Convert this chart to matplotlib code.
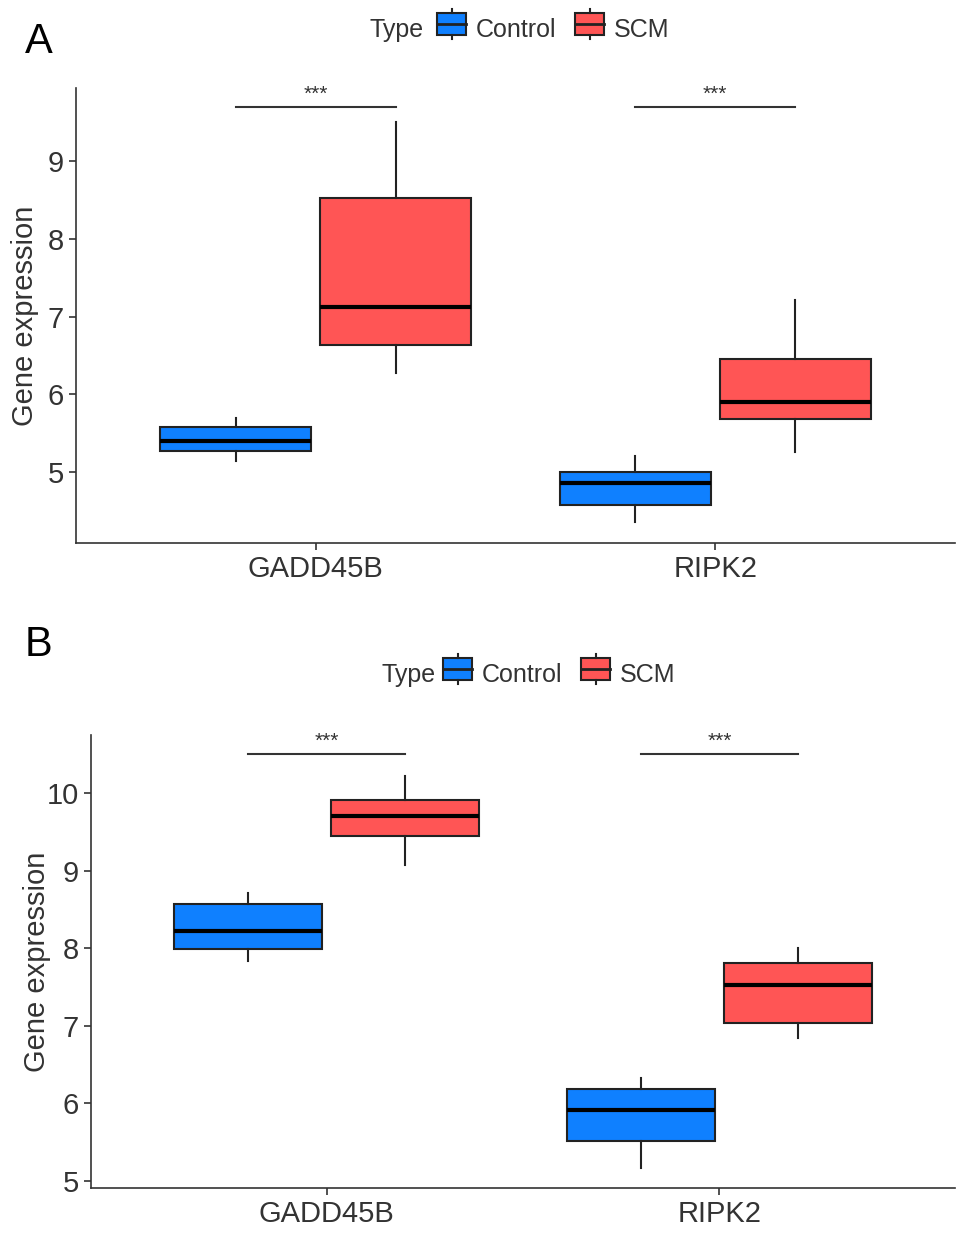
import matplotlib.pyplot as plt
from matplotlib.legend_handler import HandlerBase
from matplotlib.patches import Rectangle, Patch
from matplotlib.lines import Line2D

plt.rcParams['font.family'] = ['Liberation Sans', 'DejaVu Sans']

genes = ['GADD45B', 'RIPK2']
groups = ['Control', 'SCM']
colors = {'Control': '#0F80FF', 'SCM': '#FF5555'}

# five-number summaries per gene: [whislo, q1, med, q3, whishi]
a_control = [[5.15, 5.27, 5.40, 5.58, 5.70], [4.36, 4.58, 4.86, 5.00, 5.21]]
a_scm = [[6.27, 6.63, 7.12, 8.52, 9.50], [5.26, 5.68, 5.90, 6.46, 7.21]]
a_sig_y = 9.69
a_ylim = (4.09, 9.94)
a_ticks = [5, 6, 7, 8, 9]

b_control = [[7.83, 7.99, 8.22, 8.57, 8.71], [5.17, 5.51, 5.91, 6.19, 6.33]]
b_scm = [[9.08, 9.45, 9.71, 9.91, 10.22], [6.85, 7.04, 7.53, 7.81, 8.00]]
b_sig_y = 10.5
b_ylim = (4.91, 10.75)
b_ticks = [5, 6, 7, 8, 9, 10]

sig_labels = ['***', '***']

TXT = '#333333'


class BoxHandler(HandlerBase):
    def create_artists(self, legend, orig_handle, x0, y0, width, height, fontsize, trans):
        fc = orig_handle.get_facecolor()
        r = Rectangle((x0, y0), width, height, facecolor=fc, edgecolor='#222222', lw=1.5,
                      transform=trans)
        mid = y0 + height / 2
        m = Line2D([x0, x0 + width], [mid, mid], color='#222222', lw=2, transform=trans)
        w1 = Line2D([x0 + width / 2] * 2, [y0 + height, y0 + height * 1.2], color='#222222',
                    lw=1.5, transform=trans)
        w2 = Line2D([x0 + width / 2] * 2, [y0, y0 - height * 0.2], color='#222222',
                    lw=1.5, transform=trans)
        return [r, m, w1, w2]


def draw_panel(ax, control, scm, sig_y, ylim, ticks):
    width = 0.378
    for i, gene in enumerate(genes):
        for grp, vals, off in (('Control', control[i], -0.2), ('SCM', scm[i], 0.2)):
            st = {'whislo': vals[0], 'q1': vals[1], 'med': vals[2], 'q3': vals[3],
                  'whishi': vals[4], 'fliers': []}
            ax.bxp([st], positions=[i + 1 + off], widths=width, patch_artist=True,
                   showcaps=False,
                   boxprops=dict(facecolor=colors[grp], edgecolor='#222222', lw=1.5),
                   medianprops=dict(color='black', lw=3),
                   whiskerprops=dict(color='#222222', lw=1.5))
        ax.plot([i + 1 - 0.2, i + 1 + 0.2], [sig_y, sig_y], color='#333333', lw=1.5)
        ax.text(i + 1, sig_y + (ylim[1] - ylim[0]) * 0.008, sig_labels[i], ha='center',
                va='bottom', fontsize=15, color=TXT)
    ax.set_xlim(0.4, 2.6)
    ax.set_ylim(*ylim)
    ax.set_xticks([1, 2])
    ax.set_xticklabels(genes)
    ax.set_yticks(ticks)
    ax.tick_params(labelsize=21, colors=TXT, length=5, width=1.2)
    ax.set_ylabel('Gene expression', fontsize=21, color=TXT)
    for s in ['top', 'right']:
        ax.spines[s].set_visible(False)
    for s in ['left', 'bottom']:
        ax.spines[s].set_color('#333333')
        ax.spines[s].set_linewidth(1.2)


fig = plt.figure(figsize=(9.69, 12.44), dpi=100)
ax_a = fig.add_axes([0.0784, 0.5635, 0.9072, 0.3658])
ax_b = fig.add_axes([0.0939, 0.045, 0.8917, 0.3642])
draw_panel(ax_a, a_control, a_scm, a_sig_y, a_ylim, a_ticks)
draw_panel(ax_b, b_control, b_scm, b_sig_y, b_ylim, b_ticks)
ax_a.yaxis.set_label_coords(-0.042, 0.5)
ax_b.yaxis.set_label_coords(-0.046, 0.5)

handles = [Patch(facecolor=colors[g]) for g in groups]
for lx, ly, tx in ((437, 30, 370), (443, 675, 382)):
    fig.text(tx / 969, 1 - ly / 1244, 'Type', fontsize=18, color=TXT, va='center', ha='left')
    fig.legend(handles, groups, loc='center left', bbox_to_anchor=(lx / 969, 1 - ly / 1244),
               ncol=2, frameon=False, fontsize=18, handler_map={Patch: BoxHandler()},
               handlelength=1.16, handleheight=0.95, handletextpad=0.4, columnspacing=0.75,
               borderpad=0, borderaxespad=0, labelcolor=TXT)

fig.text(25 / 969, 1 - 42 / 1244, 'A', fontsize=30, va='center', ha='left')
fig.text(25 / 969, 1 - 645 / 1244, 'B', fontsize=30, va='center', ha='left')

fig.savefig('out.png', dpi=100)
